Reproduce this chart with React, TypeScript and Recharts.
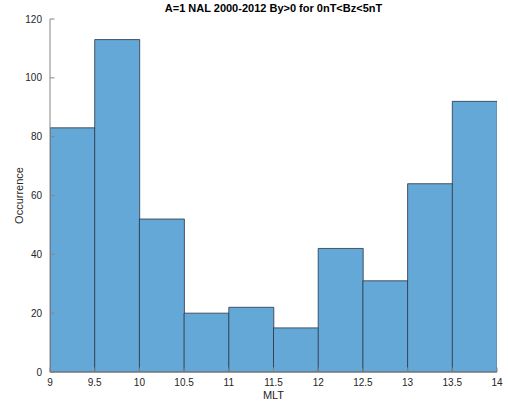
import React from "react";
import { BarChart, Bar, XAxis, YAxis, Label } from "recharts";

// MLT bin centres (0.5 h bins from 9 to 14) and counts per bin
const binCentres = [9.25, 9.75, 10.25, 10.75, 11.25, 11.75, 12.25, 12.75, 13.25, 13.75];
const counts = [83, 113, 52, 20, 22, 15, 42, 31, 64, 92];
const xTicks = [9, 9.5, 10, 10.5, 11, 11.5, 12, 12.5, 13, 13.5, 14];
const yTicks = [0, 20, 40, 60, 80, 100, 120];

const title = "A=1 NAL 2000-2012 By>0 for 0nT<Bz<5nT";

const data = binCentres.map((mlt, i) => ({ mlt, count: counts[i] }));

const FONT = "'Liberation Sans', Arial, Helvetica, sans-serif";
const AXIS = "#858585";
const TEXT = "#262626";
const TICK_LEN = 4.5;

// ticks point inward like the plotting tool this mimics
const YTick = (props: any) => {
  const { x, y, payload } = props;
  const axisX = x + 8;
  return (
    <g>
      <line x1={axisX} y1={y} x2={axisX + TICK_LEN} y2={y} stroke={AXIS} />
      <text x={x} y={y} dy={3.5} textAnchor="end" fontSize={10} fill={TEXT} fontFamily={FONT}>
        {payload.value}
      </text>
    </g>
  );
};

const XTick = (props: any) => {
  const { x, y, payload } = props;
  const axisY = y - 4;
  return (
    <g>
      <line x1={x} y1={axisY} x2={x} y2={axisY - TICK_LEN} stroke={AXIS} />
      <text x={x} y={y} dy={10} textAnchor="middle" fontSize={10} fill={TEXT} fontFamily={FONT}>
        {payload.value}
      </text>
    </g>
  );
};

export default function App() {
  return (
    <div style={{ position: "fixed", left: 0, top: 0, background: "#fff" }}>
      <BarChart
        width={508}
        height={405}
        data={data}
        margin={{ top: 19, right: 11, bottom: 0, left: 0 }}
        barCategoryGap={0}
        barGap={0}
      >
        <text x={273.5} y={12} textAnchor="middle" fontSize={11} fontWeight="bold" fill="#000" fontFamily={FONT}>
          {title}
        </text>
        <XAxis
          dataKey="mlt"
          type="number"
          domain={[9, 14]}
          ticks={xTicks}
          allowDataOverflow
          height={33}
          stroke={AXIS}
          tickLine={false}
          tickSize={0}
          tickMargin={4}
          tick={<XTick />}
          interval={0}
        >
          <Label value="MLT" position="bottom" offset={-14} fontSize={11} fill={TEXT} fontFamily={FONT} />
        </XAxis>
        <YAxis
          type="number"
          domain={[0, 120]}
          ticks={yTicks}
          width={50}
          stroke={AXIS}
          tickLine={false}
          tickSize={0}
          tickMargin={8}
          tick={<YTick />}
          interval={0}
        >
          <Label
            value="Occurrence"
            angle={-90}
            position="insideLeft"
            offset={19}
            style={{ textAnchor: "middle" }}
            fontSize={11}
            fill={TEXT}
            fontFamily={FONT}
          />
        </YAxis>
        <Bar
          dataKey="count"
          fill="#63a8d7"
          stroke="#2b3440"
          strokeWidth={0.8}
          isAnimationActive={false}
        />
      </BarChart>
    </div>
  );
}
